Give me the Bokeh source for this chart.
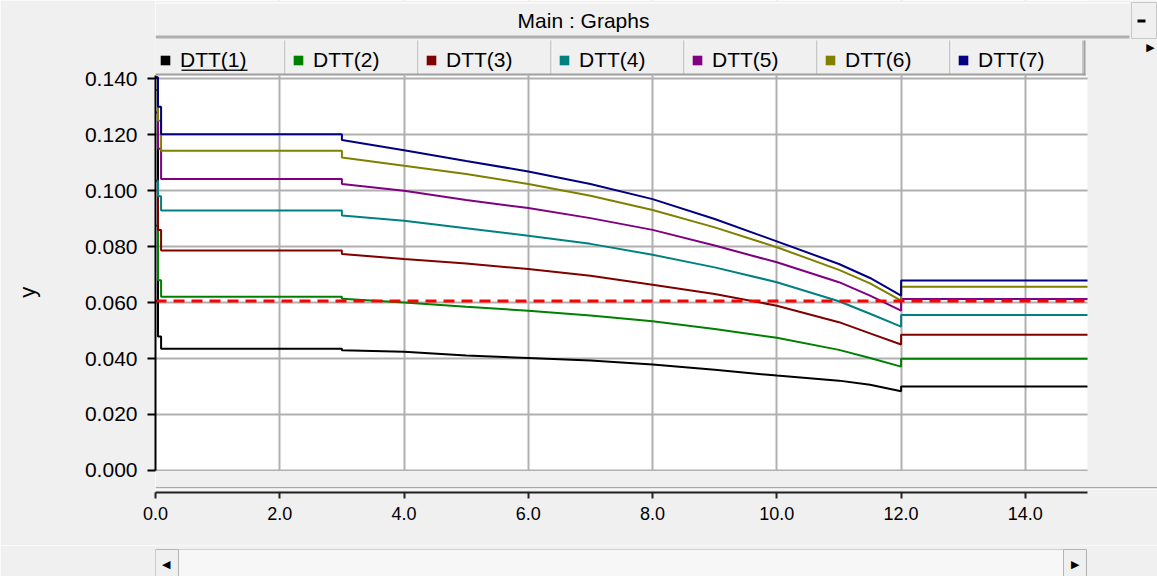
from bokeh.embed import file_html
from bokeh.layouts import column
from bokeh.models import (BoxAnnotation, FixedTicker, Label, Legend, LegendItem,
                          NumeralTickFormatter, Range1d)
from bokeh.plotting import figure
from bokeh.resources import INLINE

# ---------------------------------------------------------------- data
# time axis shared by all traces (vertical steps repeat a time value)
time = [0.0, 0.04, 0.04, 0.09, 0.09, 3.0, 3.0, 4.0, 5.0, 6.0, 7.0, 8.0,
        9.0, 10.0, 11.0, 11.5, 12.0, 12.0, 15.0]

dtt_1 = [0.1405, 0.1405, 0.0479, 0.0479, 0.0435, 0.0435, 0.0430, 0.0424, 0.0411, 0.0402,
         0.0393, 0.0379, 0.0360, 0.0339, 0.0321, 0.0306, 0.0283, 0.0300, 0.0300]
dtt_2 = [0.0875, 0.0875, 0.0680, 0.0680, 0.0621, 0.0621, 0.0614, 0.0600, 0.0585, 0.0571,
         0.0554, 0.0533, 0.0506, 0.0474, 0.0431, 0.0402, 0.0371, 0.0399, 0.0399]
dtt_3 = [0.1036, 0.1036, 0.0860, 0.0860, 0.0786, 0.0786, 0.0774, 0.0756, 0.0740, 0.0720,
         0.0696, 0.0664, 0.0631, 0.0589, 0.0530, 0.0490, 0.0450, 0.0485, 0.0485]
dtt_4 = [0.1036, 0.1036, 0.0980, 0.0980, 0.0929, 0.0929, 0.0911, 0.0893, 0.0866, 0.0839,
         0.0810, 0.0771, 0.0726, 0.0673, 0.0605, 0.0560, 0.0514, 0.0556, 0.0556]
dtt_5 = [0.1280, 0.1280, 0.1150, 0.1150, 0.1042, 0.1042, 0.1024, 0.1000, 0.0967, 0.0938,
         0.0902, 0.0860, 0.0804, 0.0744, 0.0673, 0.0625, 0.0571, 0.0613, 0.0613]
dtt_6 = [0.1360, 0.1360, 0.1250, 0.1250, 0.1143, 0.1143, 0.1119, 0.1089, 0.1060, 0.1024,
         0.0982, 0.0931, 0.0869, 0.0798, 0.0717, 0.0669, 0.0607, 0.0657, 0.0657]
dtt_7 = [0.1405, 0.1405, 0.1300, 0.1300, 0.1202, 0.1202, 0.1181, 0.1145, 0.1106, 0.1069,
         0.1024, 0.0970, 0.0899, 0.0819, 0.0738, 0.0688, 0.0625, 0.0679, 0.0679]

series_values = [dtt_1, dtt_2, dtt_3, dtt_4, dtt_5, dtt_6, dtt_7]
series_labels = ["DTT(1)", "DTT(2)", "DTT(3)", "DTT(4)", "DTT(5)", "DTT(6)", "DTT(7)"]
series_colors = ["#000000", "#008000", "#800000", "#008080", "#800080", "#808000", "#000080"]

# dashed red reference level over the whole time span
limit_time = [0.0, 15.0]
limit_value = [0.0606, 0.0606]

x_tick_values = [0, 2, 4, 6, 8, 10, 12, 14]
y_tick_values = [0.0, 0.02, 0.04, 0.06, 0.08, 0.10, 0.12, 0.14]

window_title = "Main : Graphs"
y_title = "y"

# ---------------------------------------------------------------- layout
W = 1157
MAIN_H, BAR_H = 545, 31
FRAME_L, FRAME_B = 155, 492           # plot frame: left / bottom edge in px
PLOT_R, PLOT_T = 1087, 75             # white plotting area: right / top edge
X_MAX, Y_MIN, Y_TOP = 15.0, -0.0079, 0.1412
PX_PER_X = (PLOT_R - FRAME_L) / X_MAX
PX_PER_Y = (FRAME_B - PLOT_T) / (Y_TOP - Y_MIN)
SANS = "Liberation Sans"
WIN_GREY = "#f0f0f0"

# the frame reaches the window's top and right edge so that the
# title bar and the legend tabs can be drawn inside it
p = figure(width=W, height=MAIN_H, title=None,
           x_range=Range1d(0, X_MAX + (W - PLOT_R) / PX_PER_X),
           y_range=Range1d(Y_MIN, Y_TOP + PLOT_T / PX_PER_Y),
           output_backend="svg", toolbar_location=None,
           min_border_left=FRAME_L, min_border_right=0,
           min_border_top=0, min_border_bottom=MAIN_H - FRAME_B,
           background_fill_color="white", border_fill_color=WIN_GREY,
           outline_line_color=None)

# pixel ranges for the window chrome drawn around the plot
p.extra_x_ranges = {"px": Range1d(FRAME_L, W)}
p.extra_y_ranges = {"py": Range1d(FRAME_B, 0)}

# axes
xa, ya = p.xaxis[0], p.yaxis[0]
xa.ticker = FixedTicker(ticks=x_tick_values)
xa.formatter = NumeralTickFormatter(format="0.0")
xa.bounds = (0, X_MAX)
xa.axis_line_color = "#202020"
xa.axis_line_width = 2
xa.major_tick_line_color = "#202020"
xa.major_tick_line_width = 2
xa.major_tick_in = 0
xa.major_tick_out = 6
xa.minor_tick_line_color = None
xa.major_label_standoff = 8
xa.major_label_text_font = SANS
xa.major_label_text_font_size = "18px"
xa.major_label_text_color = "#000000"

ya.ticker = FixedTicker(ticks=y_tick_values)
ya.formatter = NumeralTickFormatter(format="0.000")
ya.bounds = (0, Y_TOP)
ya.axis_line_color = "#000000"
ya.axis_line_width = 2
ya.major_tick_line_color = "#000000"
ya.major_tick_line_width = 2
ya.major_tick_in = 0
ya.major_tick_out = 8
ya.minor_tick_line_color = None
ya.major_label_standoff = 10
ya.major_label_text_font = SANS
ya.major_label_text_font_size = "21px"
ya.major_label_text_color = "#000000"
# the label is centred on the whole frame; trailing no-break spaces move the
# visible letter down to the middle of the white plotting area
ya.axis_label = y_title + "\u00a0" * 15
ya.axis_label_text_font = SANS
ya.axis_label_text_font_size = "22px"
ya.axis_label_text_font_style = "normal"
ya.axis_label_text_color = "#000000"
ya.axis_label_standoff = 42

for g in (p.xgrid[0], p.ygrid[0]):
    g.grid_line_color = "#b0b0b0"
    g.grid_line_width = 2


def chrome_box(left, right, top, bottom, fill, line=None, level="annotation"):
    p.add_layout(BoxAnnotation(left=left, right=right, top=top, bottom=bottom,
                               x_range_name="px", y_range_name="py",
                               fill_color=fill, fill_alpha=1.0,
                               line_color=line, line_alpha=1.0, line_width=1,
                               level=level))


def chrome_text(x, y, text, size, font=SANS):
    p.add_layout(Label(x=x, y=y, x_range_name="px", y_range_name="py", text=text,
                       text_align="center", text_baseline="middle",
                       text_font=font, text_font_size=size, text_color="#000000"))


# grey window background outside the white plotting area (covers the grid)
chrome_box(FRAME_L, W, 0, PLOT_T, WIN_GREY, level="underlay")
chrome_box(PLOT_R, W, 0, FRAME_B, WIN_GREY, level="underlay")
# grey strip between the plotting area and the time axis
p.add_layout(BoxAnnotation(top=-0.00025, fill_color=WIN_GREY, fill_alpha=1.0,
                           line_color=None, level="underlay"))

# traces
legend_items = []
for vals, lab, col in zip(series_values, series_labels, series_colors):
    p.line(time, vals, line_color=col, line_width=2)
    # square swatch used by the legend entry
    swatch = p.scatter(time, vals, marker="square", size=0, fill_color=col,
                       line_color=None)
    legend_items.append(LegendItem(label=lab, renderers=[swatch]))

p.line(limit_time, limit_value, line_color="#ff0000", line_width=3, line_dash="11 7")

# title bar
chrome_box(FRAME_L, 1129, 2, 3, "#ffffff")
chrome_box(FRAME_L, 1129, 35, 38, "#b0b0b0")
chrome_text(583, 20, window_title, "21px")
chrome_box(1131, 1156, 2, 38, WIN_GREY, "#c8c8c8")
chrome_box(1137, 1145, 19, 22, "#000000")
chrome_text(1150, 47, "\u25B6", "11px", font="DejaVu Sans")

# legend tabs
TAB_X0, TAB_W = 152, 133
chrome_box(TAB_X0, TAB_X0 + 1, 40, 73, "#ffffff")
for i in range(len(series_labels)):
    x0 = TAB_X0 + i * TAB_W
    chrome_box(x0 + 1, x0 + TAB_W, 40, 73, WIN_GREY)
    chrome_box(x0 + TAB_W - 1, x0 + TAB_W, 40, 74, "#a0a0a0")
    chrome_box(x0 + TAB_W, x0 + TAB_W + 1, 40, 73, "#ffffff")
chrome_box(TAB_X0, TAB_X0 + 7 * TAB_W + 2, 73, 75, "#a0a0a0")
chrome_box(TAB_X0 + 7 * TAB_W, TAB_X0 + 7 * TAB_W + 2, 40, 75, "#a0a0a0")
chrome_box(181, 247, 69, 70.5, "#202020")

# separator above the time axis
chrome_box(FRAME_L, W, 486.5, 488, "#a8a8a8")
chrome_box(FRAME_L, W, 488, 489, "#ffffff")

legend = Legend(items=legend_items, orientation="horizontal",
                location=(TAB_X0 + 1 - FRAME_L, FRAME_B - PLOT_T + 3),
                glyph_width=24, glyph_height=24, label_standoff=3,
                label_width=TAB_W - 27, label_height=24, spacing=0,
                padding=4, margin=0, border_line_color=None,
                background_fill_alpha=0.0,
                label_text_font=SANS, label_text_font_size="21px",
                label_text_color="#000000")
p.add_layout(legend)

# ---------------------------------------------------------------- scroll bar
# its frame lines up with the plot frame: x runs in window pixels from 155
bar = figure(width=W, height=BAR_H, title=None,
             x_range=Range1d(FRAME_L, W), y_range=Range1d(BAR_H, 0),
             output_backend="svg", toolbar_location=None,
             min_border_left=FRAME_L, min_border_right=0,
             min_border_top=0, min_border_bottom=0,
             background_fill_color=WIN_GREY,
             border_fill_color=WIN_GREY, outline_line_color=None)
bar.axis.visible = False
bar.grid.visible = False
bar.quad(left=[155], right=[1086], top=[4], bottom=[31],
         fill_color="#f7f7f7", line_color="#d0d0d0")
bar.quad(left=[155, 1063], right=[178, 1086], top=[4, 4], bottom=[31, 31],
         fill_color=WIN_GREY, line_color="#b4b4b4")
bar.text(x=[165, 1074], y=[18, 18], text=["\u25C0", "\u25B6"],
         text_align="center", text_baseline="middle",
         text_font_size="11px", text_color="#000000")

layout = column(p, bar, spacing=0)
open("out.html", "w").write(file_html(layout, INLINE))
